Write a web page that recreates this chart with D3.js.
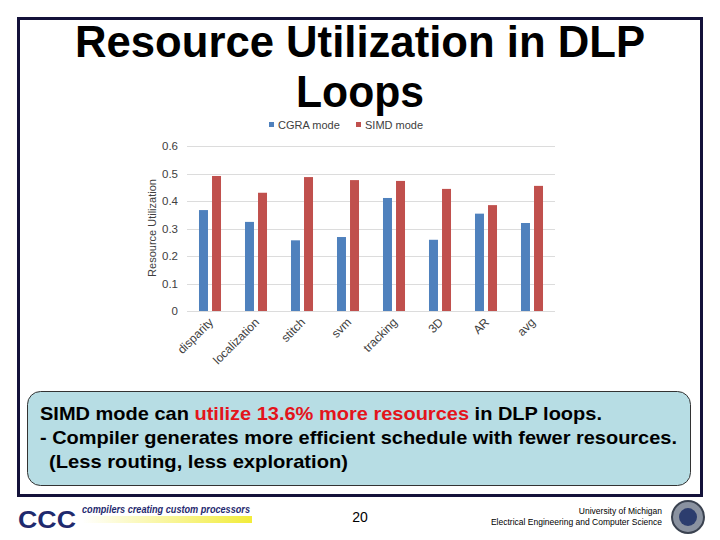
<!DOCTYPE html>
<html>
<head>
<meta charset="utf-8">
<script src="https://cdn.jsdelivr.net/npm/d3@7"></script>
<style>
  body { margin:0; background:#fff; }
  svg { display:block; font-family:"Liberation Sans", Arial, sans-serif; }
  .grid line { stroke:#dcdcdc; shape-rendering:crispEdges; }
  .grid path { display:none; }
  .ytick text { fill:#404040; font-size:11.5px; }
  .xlab { fill:#404040; font-size:12px; }
</style>
</head>
<body>
<script>
const w = 720;
const h = 540;

// chart data
const categories = ["disparity","localization","stitch","svm","tracking","3D","AR","avg"];
const seriesNames = ["CGRA mode","SIMD mode"];
const cgra = [0.367,0.324,0.257,0.269,0.411,0.259,0.354,0.320];
const simd = [0.491,0.430,0.487,0.476,0.473,0.444,0.385,0.455];
const yTicks = [0,0.1,0.2,0.3,0.4,0.5,0.6];
const colors = ["#4f81bd","#c0504d"];

const plot = {left:187, right:555, top:146, bottom:311};

const svg = d3.select("body").append("svg")
      .attr("width", w)
      .attr("height", h);

//slide frame
svg.append("rect")
    .attr("x",18.5).attr("y",18.5)
    .attr("width",683).attr("height",477)
    .attr("fill","#fff")
    .attr("stroke","#14123a")
    .attr("stroke-width",3);

//title
svg.append("text")
    .attr("x",360).attr("y",57)
    .attr("text-anchor","middle")
    .attr("font-size",44).attr("font-weight","bold")
    .attr("textLength",570).attr("lengthAdjust","spacingAndGlyphs")
    .text("Resource Utilization in DLP");
svg.append("text")
    .attr("x",360).attr("y",107)
    .attr("text-anchor","middle")
    .attr("font-size",44).attr("font-weight","bold")
    .attr("textLength",128).attr("lengthAdjust","spacingAndGlyphs")
    .text("Loops");

//legend
const legendX = [269, 356];
const legend = svg.append("g").selectAll("g")
      .data(seriesNames)
      .enter().append("g")
      .attr("transform",(d,i) => "translate("+legendX[i]+",122)");
legend.append("rect")
    .attr("width",5).attr("height",5)
    .attr("fill",(d,i) => colors[i]);
legend.append("text")
    .attr("x",9).attr("y",7)
    .attr("font-size",11).attr("fill","#404040")
    .text(d => d);

//scales
const x0 = d3.scaleBand()
      .domain(categories)
      .range([plot.left, plot.right]);
const x1 = d3.scaleBand()
      .domain(seriesNames)
      .range([0, x0.bandwidth()])
      .paddingInner(0.31)
      .paddingOuter(0.92);
const y = d3.scaleLinear()
      .domain([0,0.6])
      .range([plot.bottom, plot.top]);

//gridlines
svg.append("g")
    .attr("class","grid")
    .attr("transform","translate("+plot.left+",0)")
    .call(d3.axisRight(y).tickValues(yTicks).tickSize(plot.right-plot.left).tickFormat(""));

//y tick labels
svg.append("g")
    .attr("class","ytick")
    .selectAll("text")
    .data(yTicks)
    .enter().append("text")
    .attr("x",178)
    .attr("y",d => y(d)+4)
    .attr("text-anchor","end")
    .text(d => d3.format("")(d));

//y axis title
svg.append("text")
    .attr("transform","translate(156,228) rotate(-90)")
    .attr("text-anchor","middle")
    .attr("font-size",11).attr("fill","#404040")
    .text("Resource Utilization");

//bars
const rows = categories.map((c,i) => ({cat:c, vals:[cgra[i], simd[i]]}));
svg.append("g")
    .selectAll("g")
    .data(rows)
    .enter().append("g")
    .attr("transform",d => "translate("+x0(d.cat)+",0)")
    .selectAll("rect")
    .data(d => d.vals.map((v,i) => ({name:seriesNames[i], v:v, i:i})))
    .enter().append("rect")
    .attr("x",d => x1(d.name))
    .attr("width",x1.bandwidth())
    .attr("y",d => y(d.v))
    .attr("height",d => y(0)-y(d.v))
    .attr("fill",d => colors[d.i]);

//category labels
svg.append("g")
    .selectAll("text")
    .data(categories)
    .enter().append("text")
    .attr("class","xlab")
    .attr("text-anchor","end")
    .attr("transform",d => "translate("+(x0(d)+x0.bandwidth()/2+4)+",323) rotate(-45)")
    .text(d => d);

//callout box
svg.append("rect")
    .attr("x",27.5).attr("y",391.5)
    .attr("width",663).attr("height",94)
    .attr("rx",13).attr("ry",13)
    .attr("fill","#b7dde4")
    .attr("stroke","#333")
    .attr("stroke-width",1);

const line1 = svg.append("text")
      .attr("x",40).attr("y",420)
      .attr("font-size",19).attr("font-weight","bold")
      .attr("textLength",562).attr("lengthAdjust","spacingAndGlyphs");
line1.append("tspan").text("SIMD mode can ");
line1.append("tspan").attr("fill","#e3141b").text("utilize 13.6% more resources");
line1.append("tspan").text(" in DLP loops.");
svg.append("text")
    .attr("x",40).attr("y",444)
    .attr("font-size",19).attr("font-weight","bold")
    .attr("textLength",637).attr("lengthAdjust","spacingAndGlyphs")
    .text("- Compiler generates more efficient schedule with fewer resources.");
svg.append("text")
    .attr("x",49).attr("y",468)
    .attr("font-size",19).attr("font-weight","bold")
    .attr("textLength",299).attr("lengthAdjust","spacingAndGlyphs")
    .text("(Less routing, less exploration)");

//footer
svg.append("text")
    .attr("x",360).attr("y",522)
    .attr("text-anchor","middle")
    .attr("font-size",14)
    .text("20");
svg.append("text")
    .attr("x",662).attr("y",514)
    .attr("text-anchor","end")
    .attr("font-size",8.5)
    .text("University of Michigan");
svg.append("text")
    .attr("x",662).attr("y",525)
    .attr("text-anchor","end")
    .attr("font-size",8.5)
    .text("Electrical Engineering and Computer Science");

//logo
const grad = svg.append("defs").append("linearGradient")
      .attr("id","ybar");
grad.append("stop").attr("offset","0%").attr("stop-color","#fff");
grad.append("stop").attr("offset","100%").attr("stop-color","#f2ec3a");
svg.append("rect")
    .attr("x",82).attr("y",516)
    .attr("width",170).attr("height",7)
    .attr("fill","url(#ybar)");
svg.append("text")
    .attr("x",18).attr("y",528)
    .attr("font-size",24).attr("font-weight","bold")
    .attr("fill","#1f2a6e")
    .attr("textLength",58).attr("lengthAdjust","spacingAndGlyphs")
    .text("CCC");
svg.append("text")
    .attr("x",82).attr("y",513)
    .attr("font-size",10).attr("font-weight","bold").attr("font-style","italic")
    .attr("fill","#1f2a6e")
    .attr("textLength",168).attr("lengthAdjust","spacingAndGlyphs")
    .text("compilers creating custom processors");

//seal
svg.append("circle")
    .attr("cx",688).attr("cy",517).attr("r",16)
    .attr("fill","#8a92a0").attr("stroke","#3a4250").attr("stroke-width",2);
svg.append("circle")
    .attr("cx",688).attr("cy",517).attr("r",9)
    .attr("fill","#2c3d6e");
</script>
</body>
</html>
